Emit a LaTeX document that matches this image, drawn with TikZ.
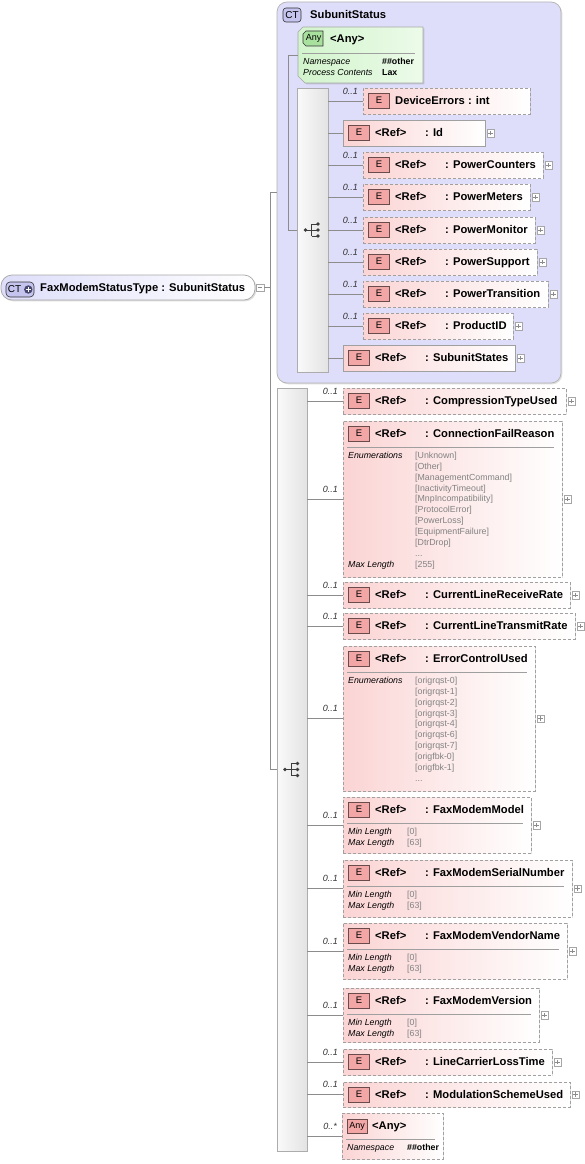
\documentclass[tikz,border=0pt]{standalone}
\usepackage{fontspec}
\setmainfont{Liberation Sans}
\usetikzlibrary{shadows,calc}
\definecolor{linegray}{RGB}{140,140,140}
\definecolor{boxgray}{RGB}{160,160,160}
\definecolor{pinkL}{RGB}{251,212,212}
\definecolor{lavL}{RGB}{222,222,250}
\definecolor{lavM}{RGB}{196,196,238}
\definecolor{greenL}{RGB}{210,244,204}
\definecolor{greenR}{RGB}{236,251,233}
\definecolor{greenM}{RGB}{168,224,158}
\definecolor{badgeR}{RGB}{242,166,166}
\definecolor{badgeB}{RGB}{105,75,75}
\definecolor{valgray}{RGB}{130,130,130}
\definecolor{icongray}{RGB}{60,60,60}
\definecolor{plusblue}{RGB}{70,70,110}
\newcommand\mkbox[6]{\node[#2, anchor=north west, inner sep=0pt, outer sep=0pt, minimum width={#5pt-#3pt}, minimum height={#6pt-#4pt}] (#1) at (#3,#4) {};}
\newcommand\ehdr[3]{%
  \node[ebadge] at ([xshift=16pt,yshift=-12.5pt]#1.north west) {E};
  \node[nm, anchor=base west] at ([xshift=32pt,yshift=-16.5pt]#1.north west) {#2};
  \node[nm, anchor=base west] at ([xshift=82pt,yshift=-16.5pt]#1.north west) {#3};}
\newcommand\pls[1]{%
  \node[plusb, anchor=west] (#1-p) at ([xshift=1.5pt]#1.east) {};
  \draw[linegray, line width=0.5pt] ([xshift=-2.3pt]#1-p.center) -- ([xshift=2.3pt]#1-p.center) ([yshift=-2.3pt]#1-p.center) -- ([yshift=2.3pt]#1-p.center);}
\newcommand\occ[2]{\node[occf, anchor=base east] at ([xshift=-5pt,yshift=6.8pt]#1.west) {#2};}
\newcommand\xcon[2]{\draw[lin] (#1.east |- #2.west) -- (#2.west);}
\newcommand\dlab[3]{\node[dl, anchor=base west] at ([xshift=5pt,yshift={-(37.5+10.85*#2)*1pt}]#1.north west) {#3};}
\newcommand\dval[4]{\node[dv, anchor=base west] at ([xshift=#4pt,yshift={-(37.5+10.85*#2)*1pt}]#1.north west) {#3};}
\newcommand\sepl[1]{\draw[draw=gray!75, line width=0.6pt] ([xshift=4pt,yshift=-26pt]#1.north west) -- ([xshift=-8pt,yshift=-26pt]#1.north east);}
\newcommand\seqicon[1]{%
  \coordinate (#1-ic) at (#1.center);
  \draw[icongray, line width=0.7pt] ([xshift=-7pt]#1-ic) -- ([xshift=-1pt]#1-ic)
     ([xshift=-1pt,yshift=6pt]#1-ic) -- ([xshift=-1pt,yshift=-6pt]#1-ic)
     ([xshift=-1pt,yshift=6pt]#1-ic) -- ([xshift=5pt,yshift=6pt]#1-ic)
     ([xshift=-1pt]#1-ic) -- ([xshift=5pt]#1-ic)
     ([xshift=-1pt,yshift=-6pt]#1-ic) -- ([xshift=5pt,yshift=-6pt]#1-ic);
  \fill[icongray] ([xshift=-7pt]#1-ic) circle[radius=1.9pt]
     ([xshift=5.5pt,yshift=6pt]#1-ic) circle[radius=1.8pt]
     ([xshift=5.5pt]#1-ic) circle[radius=1.8pt]
     ([xshift=5.5pt,yshift=-6pt]#1-ic) circle[radius=1.8pt];}
\begin{document}
\begin{tikzpicture}[x=1pt,y=-1pt,
  lin/.style={draw=linegray, line width=0.6pt},
  shadowed/.style={drop shadow={shadow xshift=1.3pt, shadow yshift=-1.3pt, fill=black, opacity=0.13}},
  optbox/.style={draw=boxgray, dash pattern=on 3pt off 2pt, line width=0.7pt, left color=pinkL, right color=white, shadowed},
  reqbox/.style={draw=boxgray, line width=0.7pt, left color=pinkL, right color=white, shadowed},
  barst/.style={draw=gray!65, line width=0.6pt, left color=gray!4, right color=gray!22, shadowed},
  ctst/.style={draw=gray!60, line width=0.7pt, rounded corners=10pt, fill=lavL, shadowed},
  mainst/.style={draw=gray!70, line width=0.7pt, rounded corners=11pt, left color=lavL, right color=white, shadowed},
  ebadge/.style={draw=badgeB, fill=badgeR, line width=0.6pt, minimum width=21pt, minimum height=15pt, inner sep=0pt, font=\fontsize{9.5}{10}\selectfont},
  plusb/.style={draw=gray!70, fill=white, line width=0.5pt, minimum width=7.5pt, minimum height=7.5pt, inner sep=0pt},
  nm/.style={inner sep=0pt, font=\fontsize{11.2}{13}\selectfont\bfseries},
  occf/.style={inner sep=0pt, font=\fontsize{9}{10}\selectfont\itshape, text=black!80},
  dl/.style={inner sep=0pt, font=\fontsize{8.8}{10}\selectfont\itshape},
  dv/.style={inner sep=0pt, font=\fontsize{8.8}{10}\selectfont, text=valgray},
  db/.style={inner sep=0pt, font=\fontsize{8.8}{10}\selectfont\bfseries},
]
\useasboundingbox (0,0) rectangle (585,1164);
% ---------- main type node
\mkbox{main}{mainst}{1}{275}{255}{300}
\node[draw=gray!40!black, fill=lavM, rounded corners=4pt, line width=0.6pt, minimum width=28pt, minimum height=15pt, inner sep=0pt] (mainbadge) at (20,289.5) {};
\node[inner sep=0pt, font=\fontsize{10}{11}\selectfont, anchor=west] at ([xshift=2pt]mainbadge.west) {CT};
\fill[plusblue] ([xshift=-6pt]mainbadge.east) circle[radius=4.2pt];
\draw[white, line width=1.1pt] ([xshift=-8.6pt]mainbadge.east) -- ([xshift=-3.4pt]mainbadge.east) ([xshift=-6pt,yshift=2.6pt]mainbadge.east) -- ([xshift=-6pt,yshift=-2.6pt]mainbadge.east);
\node[nm, anchor=base west] at (40,291.5) {FaxModemStatusType : SubunitStatus};
\node[plusb, anchor=west] (mm) at ([xshift=1pt]main.east) {};
\draw[linegray, line width=0.5pt] ([xshift=-2.3pt]mm.center) -- ([xshift=2.3pt]mm.center);
% ---------- complex type box
\mkbox{ct}{ctst}{277}{2}{561}{383}
\node[draw=gray!40!black, fill=lavM, rounded corners=3pt, line width=0.6pt, minimum width=18pt, minimum height=14pt, inner sep=0pt, font=\fontsize{10}{11}\selectfont] (ctbadge) at (292,15) {CT};
\node[nm, anchor=base west] at (310,18.5) {SubunitStatus};
% green any
\node[inner sep=0pt, outer sep=0pt, anchor=north west, minimum width=125pt, minimum height=56pt] (any1) at (298,27) {};
\draw[draw=gray!70, line width=0.7pt, left color=greenL, right color=greenR, drop shadow={shadow xshift=1.3pt, shadow yshift=-1.3pt, fill=black, opacity=0.13}]
  ([yshift=-5pt]any1.north west) -- ([xshift=5pt]any1.north west) -- (any1.north east) -- (any1.south east) -- ([xshift=7pt]any1.south west) -- ([yshift=7pt]any1.south west) -- cycle;
\draw[draw=gray!40!black, fill=greenM, line width=0.6pt] ([xshift=8pt,yshift=-4pt]any1.north west) -- ([xshift=25pt,yshift=-4pt]any1.north west) -- ([xshift=25pt,yshift=-19pt]any1.north west) -- ([xshift=8pt,yshift=-19pt]any1.north west) -- ([xshift=5pt,yshift=-16pt]any1.north west) -- ([xshift=5pt,yshift=-7pt]any1.north west) -- cycle;
\node[inner sep=0pt, font=\fontsize{9}{10}\selectfont] at ([xshift=15.5pt,yshift=-11.5pt]any1.north west) {Any};
\node[nm, anchor=base west] at ([xshift=32pt,yshift=-15.5pt]any1.north west) {<Any>};
\sepl{any1}
\dlab{any1}{0}{Namespace}
\node[db, anchor=base west] at ([xshift=84pt,yshift=-37.5pt]any1.north west) {\#\#other};
\dlab{any1}{1}{Process Contents}
\node[db, anchor=base west] at ([xshift=84pt,yshift=-48.35pt]any1.north west) {Lax};
% first sequence
\mkbox{bar1}{barst}{297}{88}{328}{372}
\seqicon{bar1}
\mkbox{de}{optbox}{363}{88}{530}{114}
\node[ebadge] at ([xshift=16pt,yshift=-12.5pt]de.north west) {E};
\node[nm, anchor=base west] at ([xshift=32pt,yshift=-16.5pt]de.north west) {DeviceErrors : int};
\occ{de}{0..1}
\mkbox{id}{reqbox}{343}{120}{485}{146}
\ehdr{id}{<Ref>}{: Id}\pls{id}
\mkbox{pc}{optbox}{363}{152}{543}{178}
\ehdr{pc}{<Ref>}{: PowerCounters}\pls{pc}\occ{pc}{0..1}
\mkbox{pme}{optbox}{363}{184}{530}{210}
\ehdr{pme}{<Ref>}{: PowerMeters}\pls{pme}\occ{pme}{0..1}
\mkbox{pmo}{optbox}{363}{217}{535}{243}
\ehdr{pmo}{<Ref>}{: PowerMonitor}\pls{pmo}\occ{pmo}{0..1}
\mkbox{ps}{optbox}{363}{249}{537}{275}
\ehdr{ps}{<Ref>}{: PowerSupport}\pls{ps}\occ{ps}{0..1}
\mkbox{ptr}{optbox}{363}{281}{548}{307}
\ehdr{ptr}{<Ref>}{: PowerTransition}\pls{ptr}\occ{ptr}{0..1}
\mkbox{pid}{optbox}{363}{313}{513}{339}
\ehdr{pid}{<Ref>}{: ProductID}\pls{pid}\occ{pid}{0..1}
\mkbox{ss}{reqbox}{343}{345}{515}{371}
\ehdr{ss}{<Ref>}{: SubunitStates}\pls{ss}
\foreach \n in {de,id,pc,pme,pmo,ps,ptr,pid,ss} {\xcon{bar1}{\n}}
% inner tree of complex type
\coordinate (ispine) at (288,0);
\draw[lin] (any1.west -| ispine) -- (any1.west);
\draw[lin] (bar1.west -| ispine) -- (bar1.west);
\draw[lin] (any1.west -| ispine) -- (bar1.west -| ispine);
% second sequence
\mkbox{bar2}{barst}{277}{388}{307}{1151}
\seqicon{bar2}
\mkbox{ctu}{optbox}{343}{388}{566}{414}
\ehdr{ctu}{<Ref>}{: CompressionTypeUsed}\pls{ctu}\occ{ctu}{0..1}
\mkbox{cfr}{optbox}{343}{421}{562}{577}
\ehdr{cfr}{<Ref>}{: ConnectionFailReason}\pls{cfr}\occ{cfr}{0..1}
\sepl{cfr}
\dlab{cfr}{0}{Enumerations}
\foreach \v [count=\i from 0] in {{[Unknown]},{[Other]},{[ManagementCommand]},{[InactivityTimeout]},{[MnpIncompatibility]},{[ProtocolError]},{[PowerLoss]},{[EquipmentFailure]},{[DtrDrop]}} {\dval{cfr}{\i}{\v}{72}}
\dval{cfr}{9}{...}{72}
\dlab{cfr}{10}{Max Length}
\dval{cfr}{10}{[255]}{72}
\mkbox{clr}{optbox}{343}{582}{570}{608}
\ehdr{clr}{<Ref>}{: CurrentLineReceiveRate}\pls{clr}\occ{clr}{0..1}
\mkbox{clt}{optbox}{343}{613}{575}{639}
\ehdr{clt}{<Ref>}{: CurrentLineTransmitRate}\pls{clt}\occ{clt}{0..1}
\mkbox{ecu}{optbox}{343}{646}{535}{791}
\ehdr{ecu}{<Ref>}{: ErrorControlUsed}\pls{ecu}\occ{ecu}{0..1}
\sepl{ecu}
\dlab{ecu}{0}{Enumerations}
\foreach \v [count=\i from 0] in {{[origrqst-0]},{[origrqst-1]},{[origrqst-2]},{[origrqst-3]},{[origrqst-4]},{[origrqst-6]},{[origrqst-7]},{[origfbk-0]},{[origfbk-1]}} {\dval{ecu}{\i}{\v}{72}}
\dval{ecu}{9}{...}{72}
\mkbox{fmm}{optbox}{343}{797}{531}{853}
\ehdr{fmm}{<Ref>}{: FaxModemModel}\pls{fmm}\occ{fmm}{0..1}
\mkbox{fsn}{optbox}{343}{860}{572}{917}
\ehdr{fsn}{<Ref>}{: FaxModemSerialNumber}\pls{fsn}\occ{fsn}{0..1}
\mkbox{fvn}{optbox}{343}{923}{567}{979}
\ehdr{fvn}{<Ref>}{: FaxModemVendorName}\pls{fvn}\occ{fvn}{0..1}
\mkbox{fmv}{optbox}{343}{988}{539}{1042}
\ehdr{fmv}{<Ref>}{: FaxModemVersion}\pls{fmv}\occ{fmv}{0..1}
\foreach \n in {fmm,fsn,fvn,fmv} {\sepl{\n}\dlab{\n}{0}{Min Length}\dval{\n}{0}{[0]}{64}\dlab{\n}{1}{Max Length}\dval{\n}{1}{[63]}{64}}
\mkbox{lcl}{optbox}{343}{1049}{552}{1075}
\ehdr{lcl}{<Ref>}{: LineCarrierLossTime}\pls{lcl}\occ{lcl}{0..1}
\mkbox{msu}{optbox}{343}{1082}{570}{1107}
\ehdr{msu}{<Ref>}{: ModulationSchemeUsed}\pls{msu}\occ{msu}{0..1}
\mkbox{anyb}{optbox}{342}{1113}{443}{1159}
\node[draw=badgeB, fill=badgeR, line width=0.6pt, minimum width=20pt, minimum height=14pt, inner sep=0pt, font=\fontsize{9}{10}\selectfont] at ([xshift=15pt,yshift=-13.5pt]anyb.north west) {Any};
\node[nm, anchor=base west] at ([xshift=30pt,yshift=-16.5pt]anyb.north west) {<Any>};
\occ{anyb}{0..*}
\sepl{anyb}
\dlab{anyb}{0}{Namespace}
\node[db, anchor=base west] at ([xshift=65pt,yshift=-37.5pt]anyb.north west) {\#\#other};
\foreach \n in {ctu,cfr,clr,clt,ecu,fmm,fsn,fvn,fmv,lcl,msu,anyb} {\xcon{bar2}{\n}}
% main tree
\coordinate (spine) at (270,0);
\draw[lin] (mm.east) -- (mm.east -| spine);
\draw[lin] (ct.west -| spine) -- (ct.west);
\draw[lin] (bar2.west -| spine) -- (bar2.west);
\draw[lin] (ct.west -| spine) -- (bar2.west -| spine);
\end{tikzpicture}
\end{document}
